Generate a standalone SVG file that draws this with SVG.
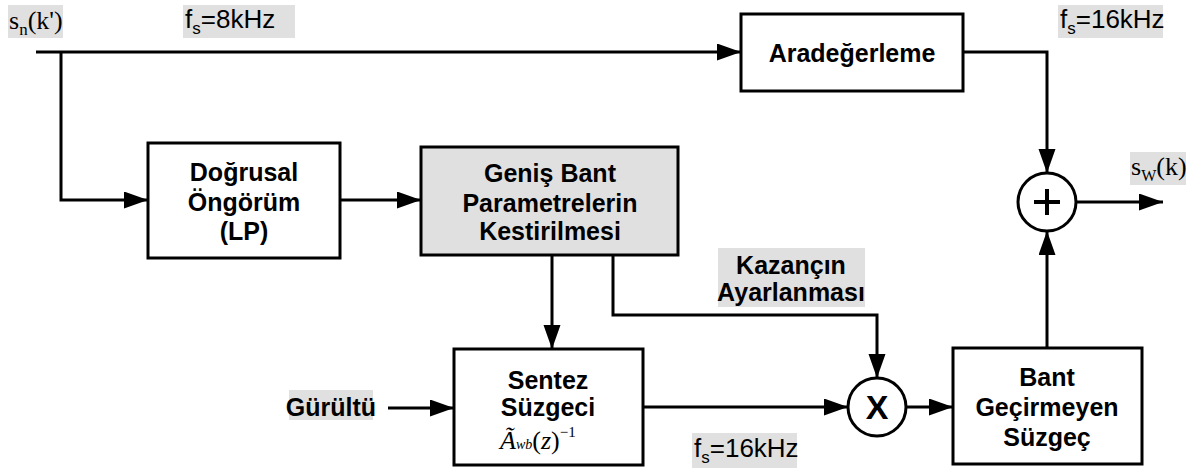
<svg xmlns="http://www.w3.org/2000/svg" width="1194" height="468" viewBox="0 0 1194 468">
  <style>
    .box { fill: #ffffff; stroke: #000000; stroke-width: 3; }
    .shaded { fill: #e0e0e0; }
    .tag { fill: #e0e0e0; }
    .wire { fill: none; stroke: #000000; stroke-width: 3; }
    .arrow { marker-end: url(#head); }
    .lbl { font-family: "Liberation Sans", Arial, sans-serif; font-weight: bold; font-size: 25px; text-anchor: middle; fill: #000; }
    .plain { font-family: "Liberation Sans", Arial, sans-serif; font-size: 26px; fill: #000; }
    .math { font-family: "Liberation Serif", "Times New Roman", serif; font-size: 26px; fill: #000; }
    .sum { fill: #ffffff; stroke: #000000; stroke-width: 3; }
    .big { font-size: 34px; }
  </style>
  <defs>
    <marker id="head" markerUnits="userSpaceOnUse" markerWidth="24" markerHeight="18" refX="24" refY="8.5" orient="auto">
      <path d="M0,0 L24,8.5 L0,17 z" fill="#000"/>
    </marker>
  </defs>

  <rect width="1194" height="468" fill="#ffffff"/>

  <!-- signal labels -->
  <g id="label-input">
    <rect class="tag" x="8" y="5" width="55" height="33"/>
    <text class="math" x="9" y="29">s<tspan font-size="17" dy="6">n</tspan><tspan dy="-6">(k')</tspan></text>
  </g>
  <g id="label-fs8">
    <rect class="tag" x="183" y="5" width="112" height="33"/>
    <text class="plain" x="185" y="28">f<tspan font-size="17" dy="6">s</tspan><tspan dy="-6">=8kHz</tspan></text>
  </g>
  <g id="label-fs16-top">
    <rect class="tag" x="1058" y="5" width="105" height="33"/>
    <text class="plain" x="1060" y="28">f<tspan font-size="17" dy="6">s</tspan><tspan dy="-6">=16kHz</tspan></text>
  </g>
  <g id="label-output">
    <rect class="tag" x="1130" y="152" width="56" height="33"/>
    <text class="math" x="1131" y="175">s<tspan font-size="16" dy="6">W</tspan><tspan dy="-6">(k)</tspan></text>
  </g>
  <g id="label-fs16-bottom">
    <rect class="tag" x="692" y="433" width="105" height="35"/>
    <text class="plain" x="694" y="457">f<tspan font-size="17" dy="6">s</tspan><tspan dy="-6">=16kHz</tspan></text>
  </g>

  <!-- connectors -->
  <g id="connectors">
    <path class="wire arrow" d="M36,52 H741"/>
    <path class="wire arrow" d="M61,52 V200 H148"/>
    <path class="wire arrow" d="M963,52 H1047 V173"/>
    <path class="wire arrow" d="M1076,202 H1163"/>
    <path class="wire arrow" d="M340,200 H421"/>
    <path class="wire arrow" d="M552,255 V349"/>
    <path class="wire arrow" d="M613,255 V315 H877 V378"/>
    <path class="wire arrow" d="M388,408 H454"/>
    <path class="wire arrow" d="M643,407 H848"/>
    <path class="wire arrow" d="M906,407 H953"/>
    <path class="wire arrow" d="M1047,348 V231"/>
  </g>

  <!-- blocks -->
  <g id="interpolation">
    <rect class="box" x="741" y="14" width="222" height="77"/>
    <text class="lbl" x="852" y="62">Aradeğerleme</text>
  </g>

  <g id="linear-prediction">
    <rect class="box" x="148" y="143" width="192" height="115"/>
    <text class="lbl" x="244" y="181">Doğrusal</text>
    <text class="lbl" x="244" y="211">Öngörüm</text>
    <text class="lbl" x="244" y="240">(LP)</text>
  </g>

  <g id="wideband-estimation">
    <rect class="box shaded" x="421" y="147" width="257" height="108"/>
    <text class="lbl" x="550" y="182">Geniş Bant</text>
    <text class="lbl" x="550" y="212">Parametrelerin</text>
    <text class="lbl" x="550" y="240">Kestirilmesi</text>
  </g>

  <g id="gain-adjust">
    <rect class="tag" x="718" y="248" width="147" height="59"/>
    <text class="lbl" x="791" y="274">Kazançın</text>
    <text class="lbl" x="791" y="301">Ayarlanması</text>
  </g>

  <g id="noise">
    <rect class="tag" x="289" y="390" width="84" height="30"/>
    <text class="lbl" x="331" y="416">Gürültü</text>
  </g>

  <g id="synthesis-filter">
    <rect class="box" x="454" y="349" width="189" height="116"/>
    <text class="lbl" x="548" y="389">Sentez</text>
    <text class="lbl" x="548" y="416">Süzgeci</text>
    <text class="math" x="500" y="449" font-style="italic">Ã<tspan font-size="14">wb</tspan><tspan font-style="normal">(</tspan>z<tspan font-style="normal">)</tspan><tspan font-style="normal" font-size="15" dy="-12">−1</tspan></text>
  </g>

  <g id="multiplier">
    <circle class="sum" cx="877" cy="407" r="29"/>
    <text class="lbl big" x="877" y="419">X</text>
  </g>

  <g id="band-stop-filter">
    <rect class="box" x="953" y="348" width="189" height="116"/>
    <text class="lbl" x="1047" y="386">Bant</text>
    <text class="lbl" x="1047" y="416">Geçirmeyen</text>
    <text class="lbl" x="1047" y="446">Süzgeç</text>
  </g>

  <g id="adder">
    <circle class="sum" cx="1047" cy="202" r="29"/>
    <path d="M1034,202 H1060 M1047,189 V215" stroke="#000" stroke-width="4" fill="none"/>
  </g>
</svg>
